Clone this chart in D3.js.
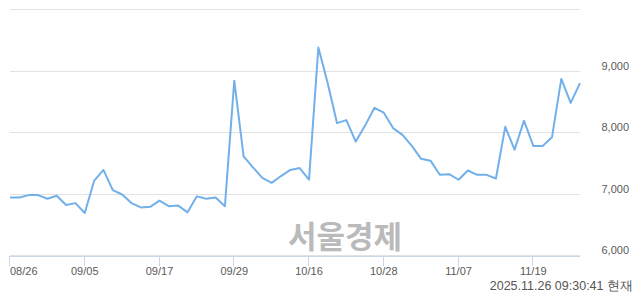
<!DOCTYPE html>
<html>
<head>
<meta charset="utf-8">
<script src="https://d3js.org/d3.v7.min.js"></script>
<style>
  body { margin: 0; background: #fff; }
  text { font-family: "Liberation Sans", Arial, sans-serif; }
</style>
</head>
<body>
<script>
// trading days (MM/DD)
var dates = ["08/26","08/27","08/28","08/29","09/01","09/02","09/03","09/04","09/05",
  "09/08","09/09","09/10","09/11","09/12","09/15","09/16","09/17","09/18","09/19",
  "09/22","09/23","09/24","09/25","09/26","09/29","09/30","10/01","10/02","10/10",
  "10/13","10/14","10/15","10/16","10/17","10/20","10/21","10/22","10/23","10/24",
  "10/27","10/28","10/29","10/30","10/31","11/03","11/04","11/05","11/06","11/07",
  "11/10","11/11","11/12","11/13","11/14","11/17","11/18","11/19","11/20","11/21",
  "11/24","11/25","11/26"];

// price per day
var prices = [6950,6950,6990,6990,6930,6980,6830,6860,6700,7220,7400,
  7070,7000,6860,6790,6800,6900,6810,6820,6710,6970,6930,6950,6810,8850,
  7620,7440,7270,7190,7300,7400,7430,7240,9390,8810,8160,8210,7860,8120,
  8410,8330,8080,7970,7790,7580,7550,7320,7330,7240,7390,7320,7320,7260,
  8100,7730,8200,7790,7790,7930,8880,8490,8810];

var yTicks = [6000, 7000, 8000, 9000, 10000];
var yLabels = [6000, 7000, 8000, 9000];
var tickEvery = 8;
var stamp = "2025.11.26 09:30:41 현재";
var watermark = "서울경제";

var width = 640, height = 294;
var plotL = 10, plotR = 580, plotT = 10, plotB = 256;

var svg = d3.select("body").append("svg")
  .attr("width", width)
  .attr("height", height);

var x = d3.scaleLinear().domain([0, dates.length - 1]).range([plotL, plotR]);
var y = d3.scaleLinear().domain([6000, 10000]).range([plotB, plotT]);

// grid lines
svg.append("g").selectAll("line").data(yTicks).enter().append("line")
  .attr("x1", plotL).attr("x2", plotR)
  .attr("y1", function(d){ return Math.round(y(d)) - 0.5; })
  .attr("y2", function(d){ return Math.round(y(d)) - 0.5; })
  .attr("stroke", "#e2e2e2");

// y labels on the right
svg.append("g").selectAll("text").data(yLabels).enter().append("text")
  .attr("x", 629)
  .attr("y", function(d){ return y(d) - 2; })
  .attr("text-anchor", "end")
  .attr("font-size", "11px")
  .attr("fill", "#5a5a5a")
  .text(function(d){ return d3.format(",")(d); });

// watermark
svg.append("text")
  .attr("x", 345).attr("y", 248)
  .attr("text-anchor", "middle")
  .attr("font-size", "31px")
  .attr("font-weight", "bold")
  .attr("fill", "#bababa")
  .style("font-family", "'Noto Sans CJK KR', sans-serif")
  .text(watermark);

// x axis
var tickIdx = d3.range(0, dates.length, tickEvery);
var xAxis = svg.append("g");
xAxis.append("line")
  .attr("x1", plotL).attr("x2", plotR)
  .attr("y1", plotB + 0.5).attr("y2", plotB + 0.5)
  .attr("stroke", "#ccd6eb");
xAxis.selectAll(".tick").data(tickIdx).enter().append("line")
  .attr("class", "tick")
  .attr("x1", function(d){ return Math.round(x(d)) - 0.5; })
  .attr("x2", function(d){ return Math.round(x(d)) - 0.5; })
  .attr("y1", plotB).attr("y2", plotB + 10)
  .attr("stroke", "#ccd6eb");
xAxis.selectAll(".lbl").data(tickIdx).enter().append("text")
  .attr("class", "lbl")
  .attr("x", function(d){ return x(d); })
  .attr("y", 275)
  .attr("text-anchor", function(d, i){ return i === 0 ? "start" : "middle"; })
  .attr("font-size", "11px")
  .attr("fill", "#5a5a5a")
  .text(function(d){ return dates[d]; });

// price line
var line = d3.line()
  .x(function(d, i){ return x(i); })
  .y(function(d){ return y(d); });

svg.append("path")
  .datum(prices)
  .attr("d", line)
  .attr("fill", "none")
  .attr("stroke", "#72b0ea")
  .attr("stroke-width", 2)
  .attr("stroke-linejoin", "round");

// timestamp
svg.append("text")
  .attr("x", 633).attr("y", 290)
  .attr("text-anchor", "end")
  .attr("font-size", "12.5px")
  .attr("fill", "#555")
  .text(stamp);
</script>
</body>
</html>
